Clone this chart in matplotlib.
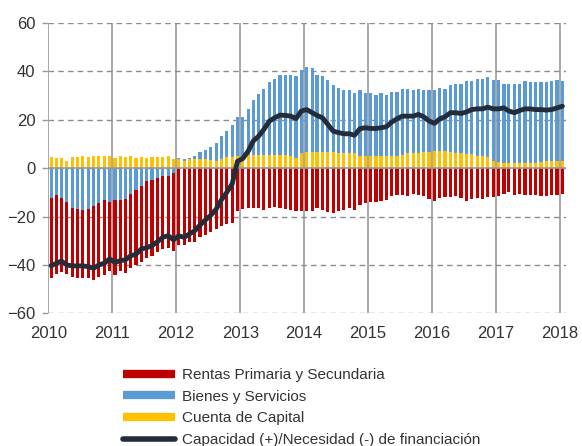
import numpy as np
import pandas as pd
import matplotlib
matplotlib.use("Agg")
import matplotlib.pyplot as plt
import matplotlib.dates as mdates
from matplotlib.lines import Line2D

plt.rcParams['font.family'] = ['Liberation Sans', 'DejaVu Sans']

# meses ene-2010 .. ene-2018
meses = pd.date_range("2010-01-01", "2018-01-01", freq="MS")

rentas = [
    -33.0, -32.6, -30.7, -29.6, -28.5, -28.5, -28.1, -28.8, -30.7, -30.4, -30.8, -28.7,
    -30.8, -29.4, -30.6, -30.9, -30.8, -31.2, -32.1, -31.5, -30.3, -30.1, -29.9, -31.9,
    -31.8, -31.8, -30.7, -30.4, -28.6, -27.5, -26.3, -25.2, -23.8, -22.9, -22.5, -17.7,
    -16.8, -16.5, -16.5, -16.5, -17.1, -16.3, -15.9, -16.6, -16.8, -17.3, -17.6, -17.9,
    -17.7, -17.6, -16.6, -17.1, -18.2, -18.6, -17.7, -17.3, -16.6, -17.1, -15.2, -14.4,
    -13.8, -13.8, -13.6, -13.2, -11.4, -11.1, -11.1, -11.4, -10.5, -11.1, -11.4, -12.7,
    -13.4, -12.5, -12.1, -12.1, -11.6, -12.5, -13.4, -12.7, -12.5, -12.7, -12.1, -12.1,
    -11.6, -10.7, -10.0, -11.1, -10.7, -11.1, -11.1, -11.1, -11.6, -11.6, -11.1, -11.1,
    -10.7,
]

bienes = [
    -12.2, -11.2, -12.3, -14.2, -16.4, -16.7, -17.1, -16.7, -15.6, -14.4, -13.3, -14.0,
    -13.3, -13.3, -12.6, -10.5, -9.2, -7.4, -5.2, -4.7, -4.2, -3.3, -3.3, -2.2,
    0.6, 0.6, 0.6, 1.3, 3.0, 3.7, 5.5, 7.4, 9.4, 10.7, 13.4, 16.2,
    17.3, 18.8, 22.7, 24.9, 27.1, 29.8, 31.4, 33.0, 33.0, 33.6, 33.9, 34.0,
    35.3, 34.7, 31.9, 31.2, 29.9, 27.8, 26.8, 25.8, 25.8, 24.9, 27.2, 26.1,
    26.1, 25.4, 26.1, 25.4, 26.6, 26.6, 27.1, 26.5, 26.0, 26.5, 25.5, 25.5,
    25.1, 26.1, 25.6, 27.6, 28.5, 28.5, 30.2, 30.2, 32.0, 32.0, 33.1, 33.6,
    33.9, 32.6, 32.6, 32.6, 32.6, 33.7, 33.2, 33.2, 33.0, 32.5, 33.0, 33.6,
    33.0,
]

capital = [
    4.7, 4.1, 4.1, 3.0, 4.5, 4.7, 5.2, 4.7, 5.2, 5.2, 5.2, 5.2,
    4.1, 5.2, 4.7, 5.2, 4.1, 4.7, 4.1, 4.4, 4.4, 4.4, 4.9, 3.8,
    3.6, 3.0, 3.6, 3.6, 3.6, 3.6, 3.3, 3.0, 3.8, 4.5, 4.5, 4.9,
    3.8, 5.6, 5.6, 5.6, 5.6, 5.6, 5.6, 5.6, 5.6, 5.0, 4.0, 6.4,
    6.7, 6.7, 6.7, 6.7, 6.7, 6.7, 6.4, 6.4, 6.4, 6.2, 5.0, 5.0,
    5.0, 5.0, 5.0, 5.0, 5.0, 5.0, 5.6, 6.2, 6.2, 6.2, 6.7, 6.7,
    7.1, 7.1, 7.1, 6.8, 6.4, 6.4, 5.8, 5.8, 5.0, 5.0, 4.6, 3.0,
    2.7, 2.3, 2.3, 2.3, 2.3, 2.3, 2.3, 2.3, 2.5, 3.0, 3.0, 3.0,
    3.0,
]

capacidad = [
    -40.3, -39.3, -38.4, -40.0, -40.4, -40.4, -40.4, -40.7, -41.4, -40.0, -39.3, -37.5,
    -39.0, -38.2, -37.9, -36.2, -35.6, -33.4, -32.9, -32.0, -30.4, -28.6, -27.9, -29.6,
    -28.0, -28.6, -27.2, -25.9, -23.5, -21.4, -19.5, -17.0, -13.0, -10.0, -6.5, 2.8,
    4.0, 7.1, 11.2, 13.2, 16.0, 19.4, 20.8, 21.9, 21.8, 21.5, 20.5, 23.6,
    24.2, 22.9, 21.8, 20.8, 18.1, 15.3, 14.7, 14.2, 14.2, 13.6, 16.3, 16.7,
    16.4, 16.4, 16.7, 17.1, 19.0, 20.4, 21.5, 21.5, 21.5, 22.2, 21.2, 19.5,
    18.5, 20.4, 21.2, 22.9, 22.9, 22.6, 23.2, 24.2, 24.5, 24.5, 25.2, 24.5,
    24.5, 24.9, 23.6, 22.9, 23.8, 24.5, 24.5, 24.2, 24.2, 24.0, 24.2, 24.9,
    25.6,
]

etiquetas = ["Rentas Primaria y Secundaria", "Bienes y Servicios",
             "Cuenta de Capital", "Capacidad (+)/Necesidad (-) de financiación"]

rojo = "#C00000"
azul = "#5B9BD5"
amarillo = "#FFC000"
negro = "#252C39"

rentas = np.array(rentas)
bienes = np.array(bienes)
capital = np.array(capital)

x = meses + pd.Timedelta(days=15)
w = 18  # dias

fondo_bienes = np.where(bienes > 0, capital, 0)
fondo_rentas = np.where(bienes < 0, bienes, 0)

fig = plt.figure(figsize=(5.82, 4.46), dpi=100)
ax = fig.add_axes([0.0833, 0.2975, 0.889, 0.651])

ax.bar(x, capital, width=w, color=amarillo, zorder=2)
ax.bar(x, bienes, width=w, bottom=fondo_bienes, color=azul, zorder=2)
ax.bar(x, rentas, width=w, bottom=fondo_rentas, color=rojo, zorder=2)
ax.axhline(0, color="#999999", lw=1.2, zorder=3)
ax.plot(x, capacidad, color=negro, lw=3.5, solid_joinstyle="round",
        solid_capstyle="round", zorder=4)

ax.set_ylim(-60, 60)
ax.set_yticks(range(-60, 61, 20))
ax.set_xlim(pd.Timestamp("2010-01-01"), pd.Timestamp("2018-02-05"))
ax.xaxis.set_major_locator(mdates.YearLocator())
ax.xaxis.set_major_formatter(mdates.DateFormatter("%Y"))

for s in ax.spines.values():
    s.set_visible(False)
ax.yaxis.grid(True, color="#8c8c8c", lw=1.0, ls=(0, (4, 3)), zorder=0)
ax.xaxis.grid(True, color="#999999", lw=1.2, zorder=1)
ax.tick_params(axis="y", length=4.5, width=1.0, color="#999999", labelsize=12,
               labelcolor="#333333", pad=5)
ax.tick_params(axis="x", length=0, labelsize=12, labelcolor="#333333", pad=9)
ax.set_axisbelow(True)

handles = [
    Line2D([], [], color=rojo, lw=6, solid_capstyle="butt"),
    Line2D([], [], color=azul, lw=6, solid_capstyle="butt"),
    Line2D([], [], color=amarillo, lw=6, solid_capstyle="butt"),
    Line2D([], [], color=negro, lw=4, solid_capstyle="round"),
]
leg = fig.legend(handles, etiquetas, loc="upper left", bbox_to_anchor=(0.211, 0.175),
                 frameon=False, fontsize=11, handlelength=3.4, handletextpad=0.45,
                 labelspacing=0.5, borderaxespad=0, borderpad=0)
for t in leg.get_texts():
    t.set_color("#333333")

fig.savefig("out.png", dpi=100)
